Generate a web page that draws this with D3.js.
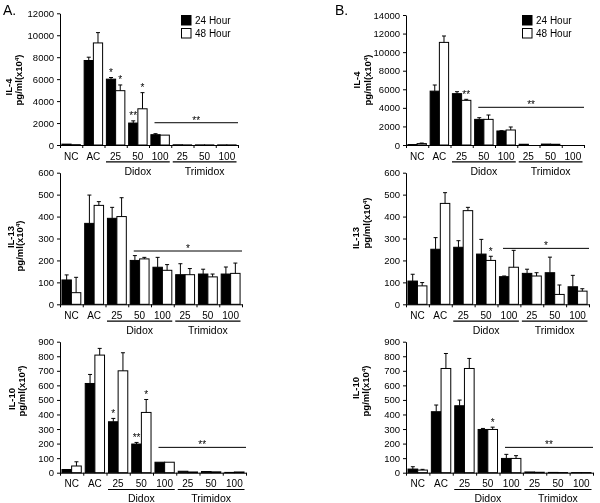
<!DOCTYPE html>
<html>
<head>
<meta charset="utf-8">
<script src="https://cdn.jsdelivr.net/npm/d3@7"></script>
<style>
  body { margin: 0; background: #fff; }
  svg { font-family: 'Liberation Sans', Arial, sans-serif; will-change: transform; }
</style>
</head>
<body>
<script>
const doses = ['NC', 'AC', '25', '50', '100', '25', '50', '100']
const drugGroups = [['Didox', 2, 4], ['Trimidox', 5, 7]]
const seriesNames = ['24 Hour', '48 Hour']

// A. IL-4
const aIL4_24 = [80, 7700, 6000, 2000, 940, 20, 10, 10]
const aIL4_48 = [30, 9300, 4950, 3300, 900, 10, 10, 10]
const aIL4_sd24 = [0, 300, 150, 200, 90, 0, 0, 0]
const aIL4_sd48 = [0, 940, 520, 1470, 0, 0, 0, 0]
const aIL4_stars = [[2, 0, '*'], [2, 1, '*'], [3, 0, '**'], [3, 1, '*']]
const aIL4_sig = [4, 2030, '**']

// A. IL-13
const aIL13_24 = [111, 369, 392, 200, 169, 135, 138, 138]
const aIL13_48 = [53, 451, 400, 207, 155, 135, 125, 141]
const aIL13_sd24 = [23, 129, 50, 22, 45, 50, 22, 32]
const aIL13_sd48 = [70, 17, 86, 7, 26, 28, 13, 47]
const aIL13_stars = []
const aIL13_sig = [3, 243, '*']

// A. IL-10
const aIL10_24 = [22, 613, 350, 197, 72, 10, 8, 2]
const aIL10_48 = [46, 808, 700, 414, 72, 5, 6, 5]
const aIL10_sd24 = [0, 62, 23, 11, 0, 0, 0, 0]
const aIL10_sd48 = [29, 46, 124, 89, 0, 0, 0, 0]
const aIL10_stars = [[2, 0, '*'], [3, 0, '**'], [3, 1, '*']]
const aIL10_sig = [4, 174, '**']

// B. IL-4
const bIL4_24 = [50, 5800, 5530, 2760, 1510, 80, 100, 0]
const bIL4_48 = [150, 11050, 4810, 2760, 1615, 0, 80, 0]
const bIL4_sd24 = [0, 660, 210, 180, 30, 0, 0, 0]
const bIL4_sd48 = [60, 690, 110, 470, 325, 0, 0, 0]
const bIL4_stars = [[2, 1, '**']]
const bIL4_sig = [3, 4060, '**']

// B. IL-13
const bIL13_24 = [106, 251, 260, 229, 126, 141, 144, 80]
const bIL13_48 = [84, 460, 427, 200, 169, 129, 45, 60]
const bIL13_sd24 = [31, 53, 30, 67, 3, 19, 71, 52]
const bIL13_sd48 = [15, 49, 15, 19, 77, 15, 43, 11]
const bIL13_stars = [[3, 1, '*']]
const bIL13_sig = [4, 255, '*']

// B. IL-10
const bIL10_24 = [25, 419, 460, 297, 98, 5, 2, 1]
const bIL10_48 = [18, 716, 716, 297, 98, 3, 1, 1]
const bIL10_sd24 = [16, 46, 39, 7, 28, 0, 0, 0]
const bIL10_sd48 = [5, 103, 69, 16, 19, 0, 0, 0]
const bIL10_stars = [[3, 1, '*']]
const bIL10_sig = [4, 174, '**']

const panels = [
  { name: 'IL-4', max: 12000, step: 2000, v: [aIL4_24, aIL4_48], sd: [aIL4_sd24, aIL4_sd48], stars: aIL4_stars, sig: aIL4_sig,
    x0: 60, x1: 238, y0: 145, y1: 13.3, t1: [8.5, 87], t2: [19, 80], legend: 181, letter: ['A.', 3] },
  { name: 'IL-13', max: 600, step: 100, v: [aIL13_24, aIL13_48], sd: [aIL13_sd24, aIL13_sd48], stars: aIL13_stars, sig: aIL13_sig,
    x0: 60, x1: 242, y0: 304.3, y1: 172.7, t1: [11, 237], t2: [19.5, 246] },
  { name: 'IL-10', max: 900, step: 100, v: [aIL10_24, aIL10_48], sd: [aIL10_sd24, aIL10_sd48], stars: aIL10_stars, sig: aIL10_sig,
    x0: 60, x1: 246, y0: 472.7, y1: 341.7, t1: [11.5, 399], t2: [22, 391] },
  { name: 'IL-4', max: 14000, step: 2000, v: [bIL4_24, bIL4_48], sd: [bIL4_sd24, bIL4_sd48], stars: bIL4_stars, sig: bIL4_sig,
    x0: 406, x1: 584, y0: 145, y1: 15, t1: [356.5, 80], t2: [368, 80], legend: 522, letter: ['B.', 335] },
  { name: 'IL-13', max: 600, step: 100, v: [bIL13_24, bIL13_48], sd: [bIL13_sd24, bIL13_sd48], stars: bIL13_stars, sig: bIL13_sig,
    x0: 406, x1: 589, y0: 304.3, y1: 172.7, t1: [356, 238], t2: [367, 223] },
  { name: 'IL-10', max: 900, step: 100, v: [bIL10_24, bIL10_48], sd: [bIL10_sd24, bIL10_sd48], stars: bIL10_stars, sig: bIL10_sig,
    x0: 406, x1: 593, y0: 472.7, y1: 341.7, t1: [355.5, 388], t2: [366, 391] }
]

const svg = d3.select('body').append('svg').attr('width', 600).attr('height', 503)

panels.forEach(function(p) {
  const g = svg.append('g')
  const x = d3.scaleBand().domain(d3.range(doses.length)).range([p.x0, p.x1]).paddingInner(0.17).paddingOuter(0.085)
  const xs = d3.scaleBand().domain([0, 1]).range([0, x.bandwidth()])
  const edge = d3.scaleLinear().domain([0, doses.length]).range([p.x0, p.x1])
  const y = d3.scaleLinear().domain([0, p.max]).range([p.y0, p.y1])
  const mid = (i, s) => x(i) + xs(s) + xs.bandwidth() / 2

  const rows = []
  doses.forEach(function(d, i) {
    [0, 1].forEach(function(s) { rows.push({ i: i, s: s, v: p.v[s][i], sd: p.sd[s][i] }) })
  })

  // bars
  g.selectAll('rect.bar')
    .data(rows)
    .enter().append('rect')
      .attr('class', 'bar')
      .attr('x', d => x(d.i) + xs(d.s))
      .attr('width', xs.bandwidth())
      .attr('y', d => y(d.v))
      .attr('height', d => y(0) - y(d.v))
      .attr('fill', d => d.s ? '#fff' : '#000')
      .attr('stroke', '#000')
      .attr('stroke-width', 1)

  // error bars, upper only
  const err = rows.filter(d => d.sd > 0)
  g.selectAll('line.err')
    .data(err)
    .enter().append('line')
      .attr('class', 'err')
      .attr('stroke', '#000')
      .attr('x1', d => mid(d.i, d.s)).attr('x2', d => mid(d.i, d.s))
      .attr('y1', d => y(d.v)).attr('y2', d => y(d.v + d.sd))
  g.selectAll('line.cap')
    .data(err)
    .enter().append('line')
      .attr('class', 'cap')
      .attr('stroke', '#000')
      .attr('x1', d => mid(d.i, d.s) - 2).attr('x2', d => mid(d.i, d.s) + 2)
      .attr('y1', d => y(d.v + d.sd)).attr('y2', d => y(d.v + d.sd))

  // y axis
  const ya = g.append('g')
    .attr('transform', `translate(${p.x0},0)`)
    .call(d3.axisLeft(y).tickValues(d3.range(0, p.max + 1, p.step)).tickFormat(d3.format('d'))
      .tickSize(3).tickSizeOuter(0).tickPadding(3))
  ya.selectAll('text').attr('font-size', 9.5).attr('font-family', null)

  // x axis line with ticks at group edges
  g.append('g')
    .attr('transform', `translate(0,${p.y0})`)
    .call(d3.axisBottom(edge).tickValues(d3.range(doses.length + 1)).tickSize(3).tickSizeOuter(0).tickFormat(''))

  // dose labels
  const xl = g.append('g')
    .attr('transform', `translate(0,${p.y0})`)
    .call(d3.axisBottom(x).tickSize(0).tickPadding(7.4).tickFormat(i => doses[i]))
  xl.select('.domain').remove()
  xl.selectAll('text').attr('font-size', 10).attr('font-family', null)

  // drug group underline + label
  drugGroups.forEach(function(dg) {
    g.append('line')
      .attr('stroke', '#000').attr('stroke-width', 1.2)
      .attr('x1', edge(dg[1]) + 1.5).attr('x2', edge(dg[2] + 1) - 1.5)
      .attr('y1', p.y0 + 16.8).attr('y2', p.y0 + 16.8)
    g.append('text')
      .attr('x', (edge(dg[1]) + edge(dg[2] + 1)) / 2)
      .attr('y', p.y0 + 29.7)
      .attr('text-anchor', 'middle')
      .attr('font-size', 10.5)
      .text(dg[0])
  })

  // stars over single bars
  g.selectAll('text.star')
    .data(p.stars)
    .enter().append('text')
      .attr('class', 'star')
      .attr('x', d => mid(d[0], d[1]))
      .attr('y', d => y(p.v[d[1]][d[0]] + p.sd[d[1]][d[0]]) - 1.5)
      .attr('text-anchor', 'middle')
      .attr('font-size', 10)
      .attr('fill', '#000')
      .text(d => d[2])

  // significance line over the treated groups
  const sx1 = edge(p.sig[0]) + 5.5
  g.append('line')
    .attr('stroke', '#000')
    .attr('x1', sx1).attr('x2', p.x1)
    .attr('y1', y(p.sig[1])).attr('y2', y(p.sig[1]))
  g.append('text')
    .attr('x', (sx1 + p.x1) / 2)
    .attr('y', y(p.sig[1]) + 1)
    .attr('text-anchor', 'middle')
    .attr('font-size', 10)
    .attr('fill', '#000')
    .text(p.sig[2])

  // y title, two lines
  g.append('text')
    .attr('transform', `translate(${p.t1[0]},${p.t1[1]}) rotate(-90)`)
    .attr('dy', '0.35em')
    .attr('text-anchor', 'middle')
    .attr('font-size', 9.5).attr('font-weight', 'bold')
    .text(p.name)
  const t2 = g.append('text')
    .attr('transform', `translate(${p.t2[0]},${p.t2[1]}) rotate(-90)`)
    .attr('dy', '0.35em')
    .attr('text-anchor', 'middle')
    .attr('font-size', 9.5).attr('font-weight', 'bold')
  t2.append('tspan').text('pg/ml(x10')
  t2.append('tspan').attr('font-size', 6).attr('dy', '-0.5em').text('4')
  t2.append('tspan').attr('dy', '0.3em').text(')')

  // legend and panel letter on the top row
  if (p.legend) {
    seriesNames.forEach(function(s, k) {
      g.append('rect')
        .attr('x', p.legend + 0.5).attr('y', 15.5 + k * 13)
        .attr('width', 9.5).attr('height', 9.5)
        .attr('fill', k ? '#fff' : '#000').attr('stroke', '#000')
      g.append('text')
        .attr('x', p.legend + 14).attr('y', 24 + k * 13)
        .attr('font-size', 10)
        .text(s)
    })
    g.append('text')
      .attr('x', p.letter[1]).attr('y', 15)
      .attr('font-size', 14)
      .text(p.letter[0])
  }
})
</script>
</body>
</html>
